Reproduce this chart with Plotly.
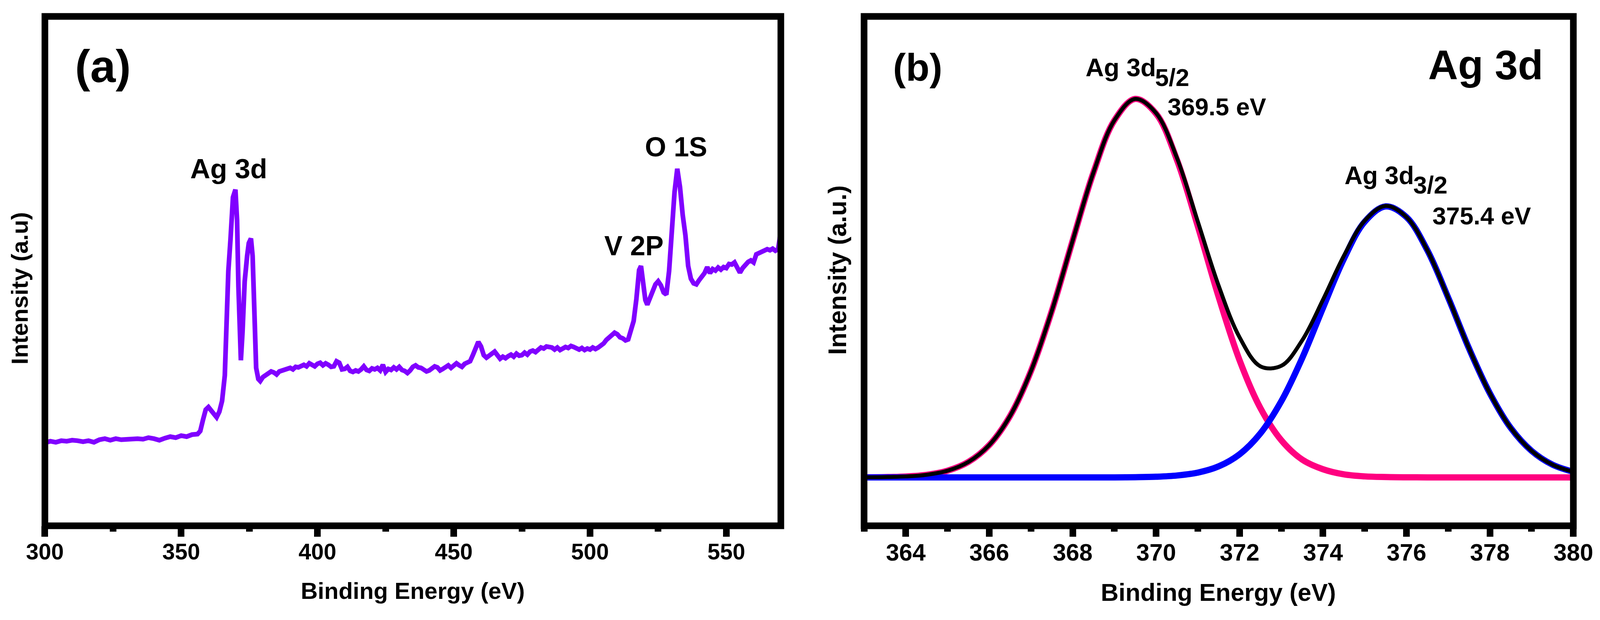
import plotly.graph_objects as go

# survey spectrum, panel (a) -- binding energy (eV) and intensity (arb. units)
survey_be = [
    300, 302, 304, 306, 308, 310, 312, 314, 316, 318,
    320, 322, 324, 326, 328, 330, 332, 334, 336, 338,
    340, 342, 344, 346, 348, 350, 352, 354, 356,
    357, 358, 359, 360, 361, 362, 363, 364, 365, 366,
    366.6, 367.3, 368.1, 369, 369.9, 370.5, 371, 371.5, 371.9, 372.5,
    373.3, 374.2, 374.8, 375.6, 376.2, 376.8, 377.5, 378.3, 379,
    380, 381, 382, 383, 384, 385, 386, 387, 388, 389,
    390, 391, 392, 393, 394, 395, 396, 397, 398, 399,
    400, 401, 402, 403, 404, 405, 406, 407, 408, 409,
    410, 411, 412, 413, 414, 415, 416, 417, 418, 419,
    420, 421, 422, 423, 424, 425, 426, 427, 428, 429,
    430, 431, 432, 433, 434, 435, 436, 437, 438, 439,
    440, 441, 442, 443, 444, 445, 446, 447, 448, 449,
    450, 451, 452, 453, 454, 455, 456, 457, 458, 459,
    460, 461, 462, 463, 464, 465, 466, 467, 468, 469,
    470, 471, 472, 473, 474, 475, 476, 477, 478, 479,
    480, 481, 482, 483, 484, 485, 486, 487, 488, 489,
    490, 491, 492, 493, 494, 495, 496, 497, 498, 499,
    500, 501, 502, 503, 504, 505, 506, 507, 508, 509,
    510, 511, 512, 513,
    514, 515, 516, 517, 518, 518.7, 519.5, 520.3, 521, 522,
    523, 524, 525, 526, 527, 528, 529, 530, 531, 532,
    533, 534, 535, 536, 537, 538, 539, 540,
    541, 542, 543, 544, 545, 546, 547, 548, 549, 550,
    551, 552, 553, 554, 555, 556, 557, 558, 559, 560,
    561, 562, 563, 564, 565, 566, 567, 568, 569, 570,
]
survey_cps = [
    16.3, 16.6, 16.4, 16.7, 16.6, 16.8, 16.7, 16.5, 16.7, 16.4,
    16.9, 17.1, 16.8, 17.1, 16.9, 17.0, 17.0, 17.1, 17.0, 17.3,
    17.1, 16.8, 17.2, 17.5, 17.3, 17.7, 17.5, 17.9, 18.0,
    18.6, 20.8, 22.8, 23.3, 22.6, 21.8, 21.3, 22.4, 24.5, 29.5,
    41.8, 50.0, 56.3, 64.5, 66.0, 60.0, 47.0, 36.0, 32.5, 38.0,
    48.0, 53.0, 55.5, 56.4, 53.0, 43.0, 31.0, 28.8, 28.4,
    29.2, 29.6, 29.9, 30.3, 30.1, 29.7, 30.3, 30.5, 30.6, 30.9,
    31.0, 30.7, 31.2, 31.1, 31.4, 31.6, 31.3, 31.9, 31.6, 31.3,
    31.8, 32.0, 31.5, 31.9, 31.6, 31.2, 31.3, 32.3, 32.0, 30.7,
    30.8, 31.2, 30.4, 30.2, 30.5, 30.3, 30.7, 31.3, 30.6, 30.4,
    30.9, 30.7, 31.0, 30.5, 31.6, 30.2, 30.8, 30.6, 31.1, 30.7,
    31.2, 30.6, 30.4, 30.0, 30.5, 31.2, 31.5, 31.1, 31.0, 30.6,
    30.3, 30.5, 30.9, 31.3, 31.1, 30.5, 30.8, 31.2, 31.5, 31.0,
    31.6, 31.9, 31.5, 31.2, 31.8, 32.1, 32.3, 33.5, 34.6, 36.1,
    35.2, 33.5, 33.0, 33.4, 33.8, 34.2, 33.5, 32.8, 33.2, 32.9,
    33.3, 33.6, 33.2, 33.8, 33.4, 33.5, 34.0, 33.6, 34.2, 34.4,
    34.1, 34.7, 35.0, 34.8, 35.2, 35.1, 35.0, 34.6, 35.0, 34.5,
    34.8, 35.1, 34.9, 35.3, 35.1, 34.8, 34.6, 34.9, 34.5, 34.8,
    34.6, 35.0, 34.7, 35.0, 35.4, 35.8, 36.5, 37.0, 37.4, 37.9,
    37.6, 37.0, 36.8, 36.4,
    36.6, 38.6, 40.2, 44.5, 50.2, 51.0, 47.5, 44.3, 43.4, 44.8,
    46.4, 47.4, 48.0, 47.2, 45.8, 45.4, 50.0, 58.0, 65.5, 70.1,
    66.5, 61.0, 57.0, 51.0, 48.5, 47.6, 47.4, 48.2,
    48.9, 49.6, 50.8, 49.6, 50.4, 50.1, 50.7, 50.3, 50.8, 50.6,
    51.4, 51.3, 51.7, 50.8, 49.7, 50.6, 51.3, 51.8, 52.1, 51.7,
    53.3, 53.6, 53.9, 54.1, 54.3, 54.1, 54.4, 54.0, 54.3, 57.8,
]
survey_ticks = [300, 350, 400, 450, 500, 550]
survey_minor = [325, 375, 425, 475, 525]

# high resolution Ag 3d, panel (b)
ag_be = [363, 363.5, 364, 364.5, 365, 365.5, 366, 366.5, 367, 367.5,
         368, 368.5, 369, 369.5, 370, 370.5, 371, 371.5, 372, 372.5,
         373, 373.5, 374, 374.5, 375, 375.5, 376, 376.5, 377, 377.5,
         378, 378.5, 379, 379.5, 380]
ag_52_fit = [9.52, 9.56, 9.68, 10.01, 10.81, 12.53, 15.84, 21.57, 30.38, 42.19,
             56.0, 69.4, 79.6, 83.8, 80.9, 71.8, 58.8, 44.9, 32.5, 23.1,
             16.8, 13.0, 11.1, 10.1, 9.7, 9.57, 9.52, 9.5, 9.5, 9.5,
             9.5, 9.5, 9.5, 9.5, 9.5]
ag_32_fit = [9.5, 9.5, 9.5, 9.5, 9.5, 9.5, 9.5, 9.5, 9.5, 9.5,
             9.5, 9.5, 9.5, 9.54, 9.63, 9.87, 10.44, 11.67, 14.04, 18.15,
             24.45, 32.9, 42.8, 52.4, 59.7, 62.7, 60.6, 54.1, 44.8, 34.8,
             26.0, 19.2, 14.7, 12.0, 10.6]
ag_envelope = [9.52, 9.56, 9.68, 10.01, 10.81, 12.53, 15.84, 21.57, 30.38, 42.19,
               56.0, 69.4, 79.6, 83.8, 81.0, 72.2, 59.7, 47.1, 37.0, 31.3,
               31.4, 36.4, 44.4, 53.0, 59.9, 62.8, 60.6, 54.1, 44.8, 34.8,
               26.0, 19.2, 14.7, 12.0, 10.6]
ag_ticks = [364, 366, 368, 370, 372, 374, 376, 378, 380]
ag_minor = [363, 365, 367, 369, 371, 373, 375, 377, 379]

## the page is opened 4096 px wide, so the figure is laid out on that width;
REF_W, H = 4383, 1586
W = 4096
FS = 0.96  # font scale for the narrower page
FONT = "Liberation Sans, Arial, sans-serif"


def px_x(p):
    return p / REF_W


def px_y(p):
    return 1 - p / H


def txt(text, x, y, size, xref="paper", yref="paper", angle=0):
    return dict(text=text, x=x, y=y, xref=xref, yref=yref, showarrow=False,
                xanchor="center", yanchor="middle", textangle=angle,
                font=dict(family=FONT, size=round(size * FS), color="black",
                          weight="bold"))


fig = go.Figure()

fig.add_trace(go.Scatter(x=survey_be, y=survey_cps, mode="lines",
                         line=dict(color="#8000FF", width=12),
                         xaxis="x", yaxis="y"))

fig.add_trace(go.Scatter(x=ag_be, y=ag_52_fit, mode="lines",
                         line=dict(color="#FF0080", width=16, shape="spline"),
                         xaxis="x2", yaxis="y2"))
fig.add_trace(go.Scatter(x=ag_be, y=ag_32_fit, mode="lines",
                         line=dict(color="#0000FF", width=16, shape="spline"),
                         xaxis="x2", yaxis="y2"))
fig.add_trace(go.Scatter(x=ag_be, y=ag_envelope, mode="lines",
                         line=dict(color="black", width=10, shape="spline"),
                         xaxis="x2", yaxis="y2"))

ydom = [px_y(1345), px_y(42)]

xaxis_common = dict(
    showline=False, showgrid=False, zeroline=False, automargin=False,
    ticks="outside", ticklen=27, tickwidth=17, tickcolor="black",
    tickmode="array", ticklabelstandoff=-12,
)
yaxis_common = dict(range=[0, 100], domain=ydom, showticklabels=False,
                    automargin=False, ticks="", showgrid=False,
                    zeroline=False, showline=False)

fig.update_layout(
    width=W, height=H,
    margin=dict(l=0, r=0, t=0, b=0),
    paper_bgcolor="white", plot_bgcolor="white",
    showlegend=False,
    xaxis=dict(xaxis_common, domain=[px_x(123), px_x(2139)], range=[300, 570],
               anchor="y", tickvals=survey_ticks,
               tickfont=dict(family=FONT, size=round(60 * FS), color="black",
                             weight="bold"),
               minor=dict(ticks="outside", ticklen=14, tickwidth=17,
                          tickcolor="black", tickmode="array",
                          tickvals=survey_minor, showgrid=False)),
    yaxis=dict(yaxis_common, anchor="x"),
    xaxis2=dict(xaxis_common, domain=[px_x(2367), px_x(4310)], range=[363, 380],
                anchor="y2", tickvals=ag_ticks,
                tickfont=dict(family=FONT, size=round(64 * FS), color="black",
                              weight="bold"),
                minor=dict(ticks="outside", ticklen=14, tickwidth=17,
                           tickcolor="black", tickmode="array",
                           tickvals=ag_minor, showgrid=False)),
    yaxis2=dict(yaxis_common, anchor="x2"),
)

## frames round both panels
for xr, yr in [("x domain", "y domain"), ("x2 domain", "y2 domain")]:
    fig.add_shape(type="rect", xref=xr, yref=yr, x0=0, x1=1, y0=0, y1=1,
                  line=dict(color="black", width=17), layer="above")

annotations = [
    # panel (a)
    txt("(a)", px_x(282), px_y(169), 122),
    txt("Intensity (a.u)", px_x(54), px_y(737), 63, angle=-90),
    txt("Binding Energy (eV)", px_x(1130), px_y(1511), 62),
    txt("Ag 3d", 367.45, 70.07, 74, "x", "y"),
    txt("V 2P", 516.1, 54.95, 73, "x", "y"),
    txt("O 1S", 531.6, 74.4, 73, "x", "y"),
    # panel (b)
    txt("(b)", px_x(2514), px_y(171), 103),
    txt("Ag 3d", px_x(4069), px_y(166), 110),
    txt("Intensity (a.u.)", px_x(2294), px_y(691), 67, angle=-90),
    txt("Binding Energy (eV)", px_x(3338), px_y(1515), 66),
    txt("Ag 3d", 369.16, 89.95, 68, "x2", "y2"),
    txt("5/2", 370.39, 88.03, 66, "x2", "y2"),
    txt("369.5 eV", 371.45, 82.27, 66, "x2", "y2"),
    txt("Ag 3d", 375.35, 68.80, 67, "x2", "y2"),
    txt("3/2", 376.575, 66.92, 66, "x2", "y2"),
    txt("375.4 eV", 377.80, 60.86, 66, "x2", "y2"),
]
fig.update_layout(annotations=annotations)

# no default body margin, so the figure sits flush in the window
fig.write_html("out.html", config={"displayModeBar": False},
               post_script="document.body.style.margin = '0';")
